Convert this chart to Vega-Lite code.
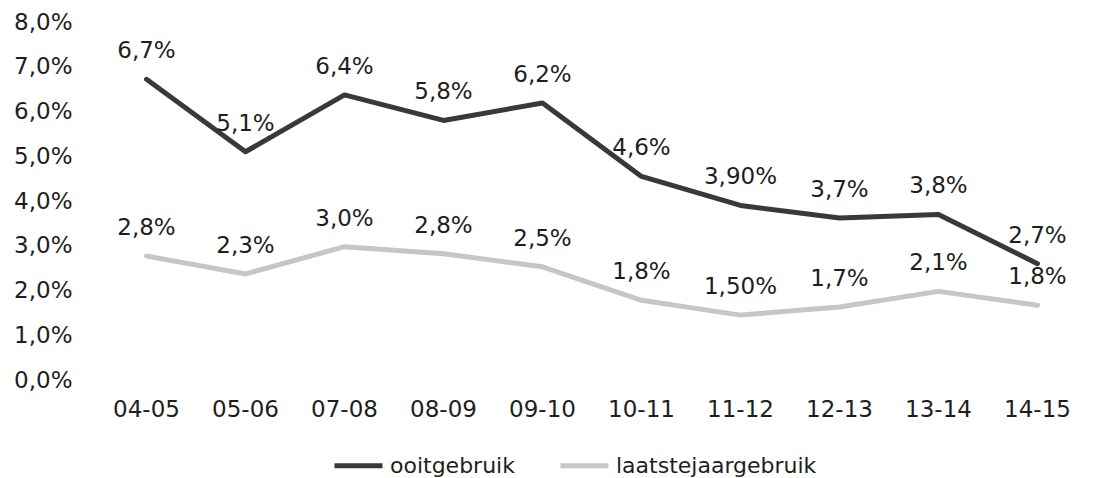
{
  "$schema": "https://vega.github.io/schema/vega-lite/v6.json",
  "width": 990,
  "height": 358,
  "autosize": {"type": "none"},
  "padding": {"left": 97, "top": 22, "right": 26, "bottom": 98},
  "background": "white",
  "config": {
    "view": {"stroke": null},
    "font": "DejaVu Sans",
    "axis": {"labelFont": "DejaVu Sans", "labelColor": "#1e1e1e"},
    "legend": {"labelFont": "DejaVu Sans", "labelColor": "#1e1e1e"}
  },
  "data": {
    "values": [
      {"jaar": "04-05", "reeks": "ooitgebruik", "waarde": 6.72, "label": "6,7%"},
      {"jaar": "05-06", "reeks": "ooitgebruik", "waarde": 5.1, "label": "5,1%"},
      {"jaar": "07-08", "reeks": "ooitgebruik", "waarde": 6.37, "label": "6,4%"},
      {"jaar": "08-09", "reeks": "ooitgebruik", "waarde": 5.8, "label": "5,8%"},
      {"jaar": "09-10", "reeks": "ooitgebruik", "waarde": 6.19, "label": "6,2%"},
      {"jaar": "10-11", "reeks": "ooitgebruik", "waarde": 4.55, "label": "4,6%"},
      {"jaar": "11-12", "reeks": "ooitgebruik", "waarde": 3.9, "label": "3,90%"},
      {"jaar": "12-13", "reeks": "ooitgebruik", "waarde": 3.62, "label": "3,7%"},
      {"jaar": "13-14", "reeks": "ooitgebruik", "waarde": 3.7, "label": "3,8%"},
      {"jaar": "14-15", "reeks": "ooitgebruik", "waarde": 2.6, "label": "2,7%"},
      {"jaar": "04-05", "reeks": "laatstejaargebruik", "waarde": 2.77, "label": "2,8%"},
      {"jaar": "05-06", "reeks": "laatstejaargebruik", "waarde": 2.37, "label": "2,3%"},
      {"jaar": "07-08", "reeks": "laatstejaargebruik", "waarde": 2.98, "label": "3,0%"},
      {"jaar": "08-09", "reeks": "laatstejaargebruik", "waarde": 2.82, "label": "2,8%"},
      {"jaar": "09-10", "reeks": "laatstejaargebruik", "waarde": 2.53, "label": "2,5%"},
      {"jaar": "10-11", "reeks": "laatstejaargebruik", "waarde": 1.78, "label": "1,8%"},
      {"jaar": "11-12", "reeks": "laatstejaargebruik", "waarde": 1.45, "label": "1,50%"},
      {"jaar": "12-13", "reeks": "laatstejaargebruik", "waarde": 1.63, "label": "1,7%"},
      {"jaar": "13-14", "reeks": "laatstejaargebruik", "waarde": 1.98, "label": "2,1%"},
      {"jaar": "14-15", "reeks": "laatstejaargebruik", "waarde": 1.67, "label": "1,8%"}
    ]
  },
  "encoding": {
    "x": {
      "field": "jaar",
      "type": "ordinal",
      "sort": null,
      "scale": {"type": "band", "paddingInner": 0, "paddingOuter": 0},
      "axis": {
        "title": null,
        "domain": false,
        "ticks": false,
        "grid": false,
        "labelAngle": 0,
        "labelFontSize": 23,
        "labelPadding": 18
      }
    },
    "y": {
      "field": "waarde",
      "type": "quantitative",
      "scale": {"domain": [0, 8], "nice": false},
      "axis": {
        "title": null,
        "domain": false,
        "ticks": false,
        "grid": false,
        "values": [0, 1, 2, 3, 4, 5, 6, 7, 8],
        "labelFontSize": 23,
        "labelPadding": 25,
        "labelExpr": "replace(format(datum.value, '.1f'), '.', ',') + '%'"
      }
    }
  },
  "layer": [
    {
      "mark": {"type": "line", "strokeWidth": 5, "strokeCap": "round", "strokeJoin": "round"},
      "encoding": {
        "color": {
          "field": "reeks",
          "type": "nominal",
          "scale": {
            "domain": ["ooitgebruik", "laatstejaargebruik"],
            "range": ["#393939", "#c6c6c6"]
          },
          "legend": {
            "title": null,
            "orient": "none",
            "direction": "horizontal",
            "legendX": 235,
            "legendY": 417,
            "symbolType": "stroke",
            "symbolSize": 2304,
            "symbolStrokeWidth": 5,
            "labelFontSize": 22,
            "labelOffset": 5,
            "labelLimit": 400,
            "columnPadding": 35,
            "padding": 0
          }
        }
      }
    },
    {
      "mark": {"type": "text", "fontSize": 23, "dy": -28, "color": "#1e1e1e", "align": "center", "baseline": "middle"},
      "encoding": {
        "text": {"field": "label", "type": "nominal"}
      }
    }
  ]
}
